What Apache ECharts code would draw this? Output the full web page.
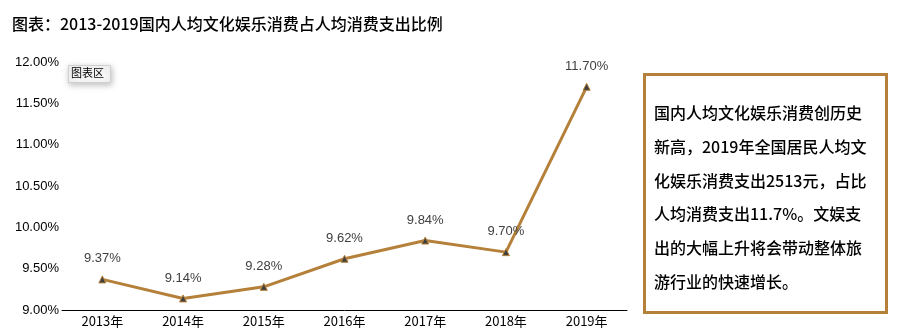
<!DOCTYPE html>
<html>
<head>
<meta charset="utf-8">
<script src="https://cdn.jsdelivr.net/npm/echarts@6/dist/echarts.min.js"></script>
<style>
  html, body { margin: 0; padding: 0; background: #fff; }
  #chart { width: 897px; height: 333px; }
</style>
</head>
<body>
<div id="chart"></div>
<script>
// Years and cultural/entertainment share of per-capita spending (%)
const years = ['2013年', '2014年', '2015年', '2016年', '2017年', '2018年', '2019年'];
const shareValues = [9.37, 9.14, 9.28, 9.62, 9.84, 9.70, 11.70];
const yTicks = { min: 9.0, max: 12.0, step: 0.5 };
const titleText = '图表：2013-2019国内人均文化娱乐消费占人均消费支出比例';
const noteLines = [
  '国内人均文化娱乐消费创历史',
  '新高，2019年全国居民人均文',
  '化娱乐消费支出2513元，占比',
  '人均消费支出11.7%。文娱支',
  '出的大幅上升将会带动整体旅',
  '游行业的快速增长。'
];

const brown = '#B5803A';
const cjk = '"Noto Sans CJK SC", "Noto Sans", sans-serif';
const latin = '"Liberation Sans", Arial, sans-serif';

const chart = echarts.init(document.getElementById('chart'), null, { renderer: 'canvas' });

chart.setOption({
  animation: false,
  backgroundColor: '#ffffff',
  title: {
    text: titleText,
    left: 7,
    top: 11,
    textStyle: { fontFamily: cjk, fontSize: 16, fontWeight: 500, color: '#000' }
  },
  grid: { left: 62, right: 270, top: 62, bottom: 23, containLabel: false },
  xAxis: {
    type: 'category',
    data: years,
    boundaryGap: true,
    axisLine: { lineStyle: { color: '#000', width: 1 } },
    axisTick: { show: false },
    axisLabel: { color: '#000', fontFamily: cjk, fontSize: 13, margin: 5 }
  },
  yAxis: {
    type: 'value',
    min: yTicks.min,
    max: yTicks.max,
    interval: yTicks.step,
    axisLine: { show: false },
    axisTick: { show: false },
    splitLine: { show: false },
    axisLabel: {
      color: '#000', fontFamily: latin, fontSize: 13, margin: 3,
      formatter: v => v.toFixed(2) + '%'
    }
  },
  series: [{
    type: 'line',
    data: shareValues,
    symbol: 'triangle',
    symbolSize: 7,
    lineStyle: { color: brown, width: 3 },
    itemStyle: { color: '#3f3f3f', borderColor: brown, borderWidth: 1 },
    label: {
      show: true,
      position: 'top',
      distance: 10,
      color: '#404040',
      fontFamily: latin,
      fontSize: 13,
      formatter: p => p.value.toFixed(2) + '%'
    }
  }],
  graphic: [
    // small "chart area" hint box near the top-left of the plot
    {
      type: 'rect',
      left: 68, top: 65,
      shape: { width: 42, height: 17 },
      style: {
        fill: '#f7f7f7', stroke: '#d0d0d0', lineWidth: 1,
        shadowBlur: 6, shadowColor: 'rgba(0,0,0,0.25)', shadowOffsetX: 1, shadowOffsetY: 2
      },
      z: 100
    },
    {
      type: 'text',
      left: 71, top: 67,
      style: { text: '图表区', fill: '#000', font: '11px ' + cjk },
      z: 101
    },
    // commentary box on the right
    {
      type: 'rect',
      left: 643, top: 73,
      shape: { width: 242, height: 238 },
      style: { fill: '#fff', stroke: brown, lineWidth: 3 }
    },
    {
      type: 'text',
      left: 654, top: 96,
      style: {
        text: noteLines.join('\n'),
        fill: '#000',
        font: '500 16px ' + cjk,
        lineHeight: 33.8
      }
    }
  ]
});
</script>
</body>
</html>
